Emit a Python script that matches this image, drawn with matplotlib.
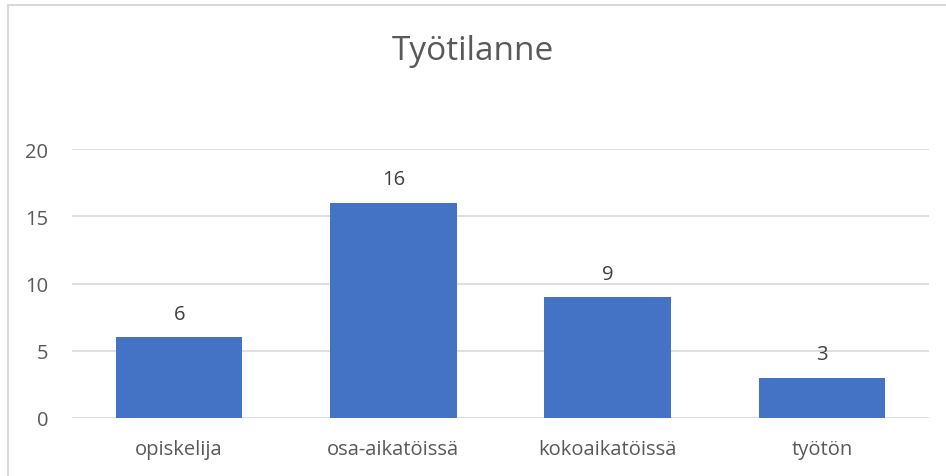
import matplotlib.pyplot as plt
from matplotlib.patches import Rectangle

categories = ["opiskelija", "osa-aikatöissä", "kokoaikatöissä", "työtön"]
values = [6, 16, 9, 3]
yticks = [0, 5, 10, 15, 20]

W, H = 946, 477
fig = plt.figure(figsize=(W / 100, H / 100), dpi=100)
plt.rcParams['font.family'] = ['Open Sans', 'DejaVu Sans']

# axes in pixels: x 72..929, y 150..419
ax = fig.add_axes([72 / W, 1 - 419 / H, (929 - 72) / W, (419 - 150) / H])

# chart border, right and bottom edges fall outside the picture
fig.patches.append(Rectangle((8 / W, -0.05), 1.0, 1 - 6 / H + 0.05, transform=fig.transFigure,
                             fill=False, edgecolor="#d9d9d9", linewidth=1.5))

x = range(len(categories))
bars = ax.bar(x, values, width=0.59, color="#4472c4", zorder=3)
for xi, v in zip(x, values):
    ax.text(xi, v + 1.0, str(v), ha="center", va="bottom", fontsize=14.5, color="#404040")

ax.set_xlim(-0.5, len(categories) - 0.5)
ax.set_ylim(0, 20)
ax.set_yticks(yticks)
ax.set_xticks(list(x))
ax.set_xticklabels(categories)
ax.yaxis.grid(True, color="#d9d9d9", linewidth=1.2, zorder=0)
ax.tick_params(axis="both", length=0, labelsize=14.5, labelcolor="#595959")
ax.tick_params(axis="y", pad=17)
ax.tick_params(axis="x", pad=15)
for s in ax.spines.values():
    s.set_visible(False)

fig.text(0.5, 1 - 52 / H, "Työtilanne", ha="center", va="center", fontsize=24, color="#595959")

fig.savefig("out.png", dpi=100)
